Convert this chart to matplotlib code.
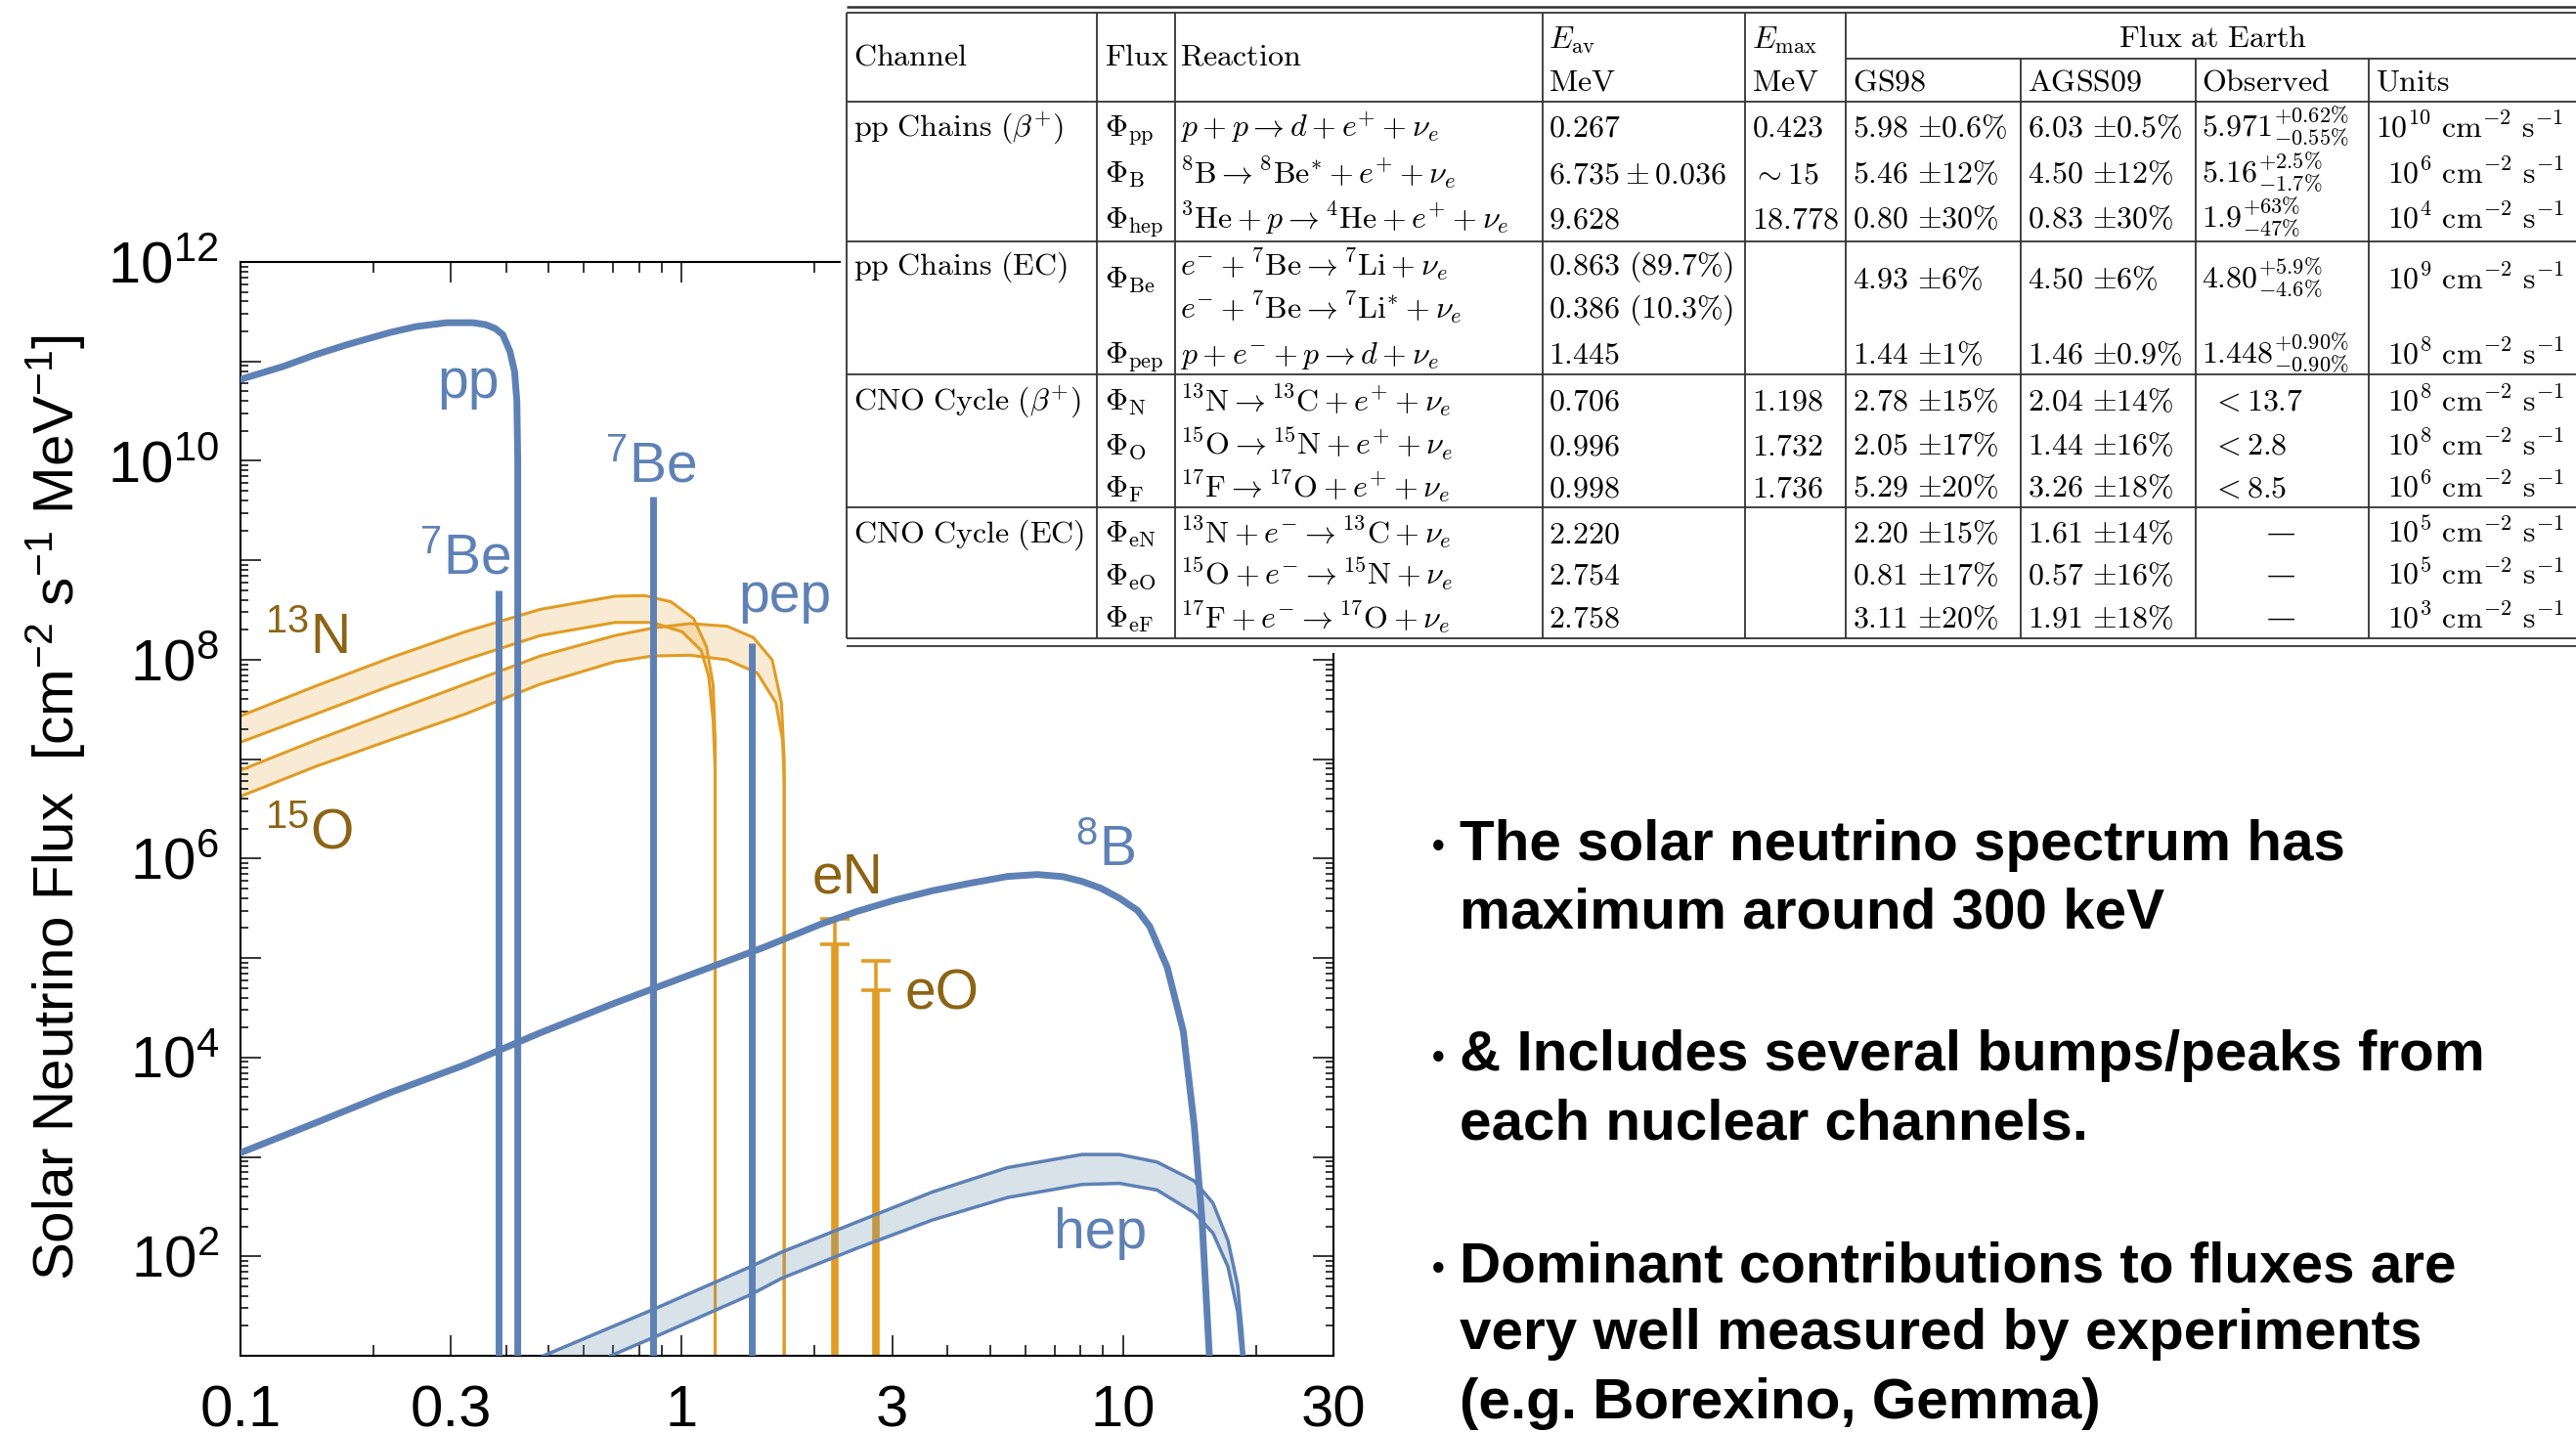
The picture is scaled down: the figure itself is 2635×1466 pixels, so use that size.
import numpy as np
import matplotlib
matplotlib.use('Agg')
import matplotlib.pyplot as plt
from matplotlib.ticker import FixedLocator, FuncFormatter, NullFormatter, LogLocator

plt.rcParams['font.family'] = ['Liberation Sans', 'DejaVu Sans']
plt.rcParams['mathtext.fontset'] = 'custom'
plt.rcParams['mathtext.rm'] = 'Liberation Sans'
plt.rcParams['mathtext.it'] = 'Liberation Sans:italic'
plt.rcParams['mathtext.bf'] = 'Liberation Sans:bold'
plt.rcParams['mathtext.sf'] = 'Liberation Sans'

BLUE = '#5E81B5'
ORANGE = '#E19C24'
BROWN = '#8C6414'
HEP_FILL = '#678FAB'

# spectra: E in MeV, flux in cm^-2 s^-1 MeV^-1
pp_E = [0.1, 0.125, 0.148, 0.175, 0.218, 0.25, 0.293, 0.336, 0.36, 0.378, 0.393, 0.408, 0.418,
        0.423, 0.425, 0.425]
pp_F = [6.6e10, 8.9e10, 1.17e11, 1.48e11, 1.95e11, 2.24e11, 2.45e11, 2.45e11, 2.34e11, 2.14e11,
        1.86e11, 1.26e11, 7.9e10, 4.0e10, 1.0e10, 1.0]

b8_E = [0.1, 0.148, 0.218, 0.323, 0.478, 0.706, 1.043, 1.542, 2.06, 2.50, 3.04, 3.70, 4.50, 5.47,
        6.40, 7.32, 8.07, 8.9, 9.82, 10.8, 11.5, 12.6, 13.7, 14.5, 15.1, 15.7, 15.8]
b8_F = [1.10e3, 2.20e3, 4.42e3, 8.45e3, 1.77e4, 3.53e4, 6.76e4, 1.29e5, 2.18e5, 2.95e5, 3.82e5,
        4.75e5, 5.65e5, 6.61e5, 6.92e5, 6.58e5, 5.90e5, 5.05e5, 4.00e5, 3.00e5, 2.08e5, 8.04e4,
        1.84e4, 2.11e3, 2.42e2, 10.0, 1.0]

hep_up_E = [0.486, 0.858, 1.43, 1.69, 2.50, 3.70, 5.47, 8.07, 9.82, 11.94, 14.5, 16.0, 17.3, 18.2, 18.6, 18.8]
hep_up_F = [10.0, 29.0, 78.5, 111, 222, 444, 780, 1057, 1057, 889, 575, 343, 144, 50.9, 18.2, 10.0]
hep_lo_E = [0.69, 0.858, 1.43, 1.69, 2.50, 3.70, 5.47, 8.07, 9.82, 11.94, 14.5, 16.0, 17.3, 18.2, 18.6]
hep_lo_F = [10.0, 15.1, 41.0, 60.5, 121, 232, 390, 528, 542, 465, 275, 171, 78.5, 27.7, 10.0]

n13_up_E = [0.1, 0.148, 0.218, 0.323, 0.478, 0.706, 0.824, 0.946, 1.064, 1.138, 1.178, 1.191, 1.191]
n13_up_F = [2.72e7, 5.43e7, 1.04e8, 1.91e8, 3.21e8, 4.35e8, 4.42e8, 3.82e8, 2.59e8, 1.35e8, 5.6e7, 1.5e7, 1.0]
n13_lo_E = [0.1, 0.148, 0.218, 0.323, 0.478, 0.706, 0.858, 1.002, 1.107, 1.151, 1.178, 1.19, 1.19]
n13_lo_F = [1.48e7, 2.84e7, 5.43e7, 9.98e7, 1.75e8, 2.37e8, 2.37e8, 1.91e8, 1.24e8, 6.8e7, 2.5e7, 8.0e6, 1.0]

o15_up_E = [0.1, 0.148, 0.218, 0.323, 0.478, 0.706, 0.858, 1.043, 1.268, 1.454, 1.603, 1.683, 1.707, 1.707]
o15_up_F = [7.74e6, 1.55e7, 2.96e7, 5.68e7, 1.09e8, 1.75e8, 2.08e8, 2.31e8, 2.17e8, 1.67e8, 9.98e7, 3.68e7, 1.0e7, 1.0]
o15_lo_E = [0.1, 0.148, 0.218, 0.323, 0.478, 0.706, 0.858, 1.043, 1.268, 1.483, 1.635, 1.693, 1.707, 1.707]
o15_lo_F = [4.22e6, 8.43e6, 1.55e7, 2.84e7, 5.68e7, 9.55e7, 1.09e8, 1.11e8, 9.98e7, 7.36e7, 3.68e7, 1.55e7, 6.0e6, 1.0]

# line spectra
line_E = [0.384, 0.862, 1.445]          # 7Be, 7Be, pep
line_top = [5.0e8, 4.4e9, 1.48e8]
ec_E = [2.22, 2.754]                    # eN, eO
ec_mid = [1.38e5, 4.8e4]
ec_up = [2.5e5, 9.4e4]

x_ticks = [0.1, 0.3, 1, 3, 10, 30]
x_ticklabels = ['0.1', '0.3', '1', '3', '10', '30']
x_minor = [0.2, 0.4, 0.5, 0.6, 0.7, 0.8, 0.9, 2, 4, 5, 6, 7, 8, 9, 20]

# table contents
tbl_channels = [r'$\mathrm{pp\ Chains}\ (\beta^{+})$', r'$\mathrm{pp\ Chains\ (EC)}$',
                r'$\mathrm{CNO\ Cycle}\ (\beta^{+})$', r'$\mathrm{CNO\ Cycle\ (EC)}$']
tbl_flux = ['pp', 'B', 'hep', 'Be', 'pep', 'N', 'O', 'F', 'eN', 'eO', 'eF']
tbl_reaction = [
    r'$p+p\rightarrow d+e^{+}+\nu_e$',
    r'${}^{8}\mathrm{B}\rightarrow{}^{8}\mathrm{Be}^{*}+e^{+}+\nu_e$',
    r'${}^{3}\mathrm{He}+p\rightarrow{}^{4}\mathrm{He}+e^{+}+\nu_e$',
    r'$e^{-}+{}^{7}\mathrm{Be}\rightarrow{}^{7}\mathrm{Li}+\nu_e$',
    r'$e^{-}+{}^{7}\mathrm{Be}\rightarrow{}^{7}\mathrm{Li}^{*}+\nu_e$',
    r'$p+e^{-}+p\rightarrow d+\nu_e$',
    r'${}^{13}\mathrm{N}\rightarrow{}^{13}\mathrm{C}+e^{+}+\nu_e$',
    r'${}^{15}\mathrm{O}\rightarrow{}^{15}\mathrm{N}+e^{+}+\nu_e$',
    r'${}^{17}\mathrm{F}\rightarrow{}^{17}\mathrm{O}+e^{+}+\nu_e$',
    r'${}^{13}\mathrm{N}+e^{-}\rightarrow{}^{13}\mathrm{C}+\nu_e$',
    r'${}^{15}\mathrm{O}+e^{-}\rightarrow{}^{15}\mathrm{N}+\nu_e$',
    r'${}^{17}\mathrm{F}+e^{-}\rightarrow{}^{17}\mathrm{O}+\nu_e$',
]
tbl_eav = ['0.267', r'6.735\pm0.036', '9.628', r'0.863\ (89.7\%)', r'0.386\ (10.3\%)', '1.445',
           '0.706', '0.996', '0.998', '2.220', '2.754', '2.758']
tbl_emax = ['0.423', r'\sim15', '18.778', '', '', '', '1.198', '1.732', '1.736', '', '', '']
tbl_gs98 = ['5.98', '0.6', '5.46', '12', '0.80', '30', '4.93', '6', '1.44', '1', '2.78', '15',
            '2.05', '17', '5.29', '20', '2.20', '15', '0.81', '17', '3.11', '20']
tbl_agss09 = ['6.03', '0.5', '4.50', '12', '0.83', '30', '4.50', '6', '1.46', '0.9', '2.04', '14',
              '1.44', '16', '3.26', '18', '1.61', '14', '0.57', '16', '1.91', '18']
tbl_observed = [r'5.971^{+0.62\%}_{-0.55\%}', r'5.16^{+2.5\%}_{-1.7\%}', r'1.9^{+63\%}_{-47\%}',
                r'4.80^{+5.9\%}_{-4.6\%}', r'1.448^{+0.90\%}_{-0.90\%}', '<13.7', '<2.8', '<8.5',
                '', '', '']
tbl_units_exp = [10, 6, 4, 9, 8, 8, 8, 6, 5, 5, 3]

bullets = [["The solar neutrino spectrum has", "maximum around 300 keV"],
           ["& Includes several bumps/peaks from", "each nuclear channels."],
           ["Dominant contributions to fluxes are", "very well measured by experiments",
            "(e.g. Borexino, Gemma)"]]

W, H = 2635, 1466
fig = plt.figure(figsize=(W / 100, H / 100), dpi=100)

# ---------------- spectrum plot ----------------
ax = fig.add_axes([246 / W, 1 - 1387 / H, 1118 / W, 1119 / H])
ax.set_xscale('log')
ax.set_yscale('log')

ax.fill(n13_up_E + n13_lo_E[::-1], n13_up_F + n13_lo_F[::-1], color=ORANGE, alpha=0.2, lw=0, zorder=1)
ax.fill(o15_up_E + o15_lo_E[::-1], o15_up_F + o15_lo_F[::-1], color=ORANGE, alpha=0.2, lw=0, zorder=1)
for e, f in [(n13_up_E, n13_up_F), (n13_lo_E, n13_lo_F), (o15_up_E, o15_up_F), (o15_lo_E, o15_lo_F)]:
    ax.plot(e, f, color=ORANGE, lw=2.2, zorder=2)

ax.vlines(ec_E, 1.0, ec_mid, color=ORANGE, lw=5.5, zorder=2)
ax.vlines(ec_E, ec_mid, ec_up, color=ORANGE, lw=2.6, zorder=2)
ax.plot(ec_E, ec_mid, ls='none', marker='_', ms=22, mew=2.6, color=ORANGE, zorder=2)
ax.plot(ec_E, ec_up, ls='none', marker='_', ms=22, mew=2.6, color=ORANGE, zorder=2)

ax.fill(hep_up_E + hep_lo_E[::-1], hep_up_F + hep_lo_F[::-1], color=HEP_FILL, alpha=0.25, lw=0, zorder=3)
ax.plot(hep_up_E, hep_up_F, color=BLUE, lw=2.5, zorder=3)
ax.plot(hep_lo_E, hep_lo_F, color=BLUE, lw=2.5, zorder=3)
ax.plot(pp_E, pp_F, color=BLUE, lw=5, zorder=3, solid_joinstyle='round')
ax.plot(b8_E, b8_F, color=BLUE, lw=5, zorder=3, solid_joinstyle='round')
ax.vlines(line_E, 1.0, line_top, color=BLUE, lw=5, zorder=3)

lab = dict(fontsize=41, ha='center', va='center', zorder=5)
ax.text(0.329, 10**10.78, 'pp', color=BLUE, **lab)
ax.text(0.849, 10**9.94, r'${}^{7}$Be', color=BLUE, **lab)
ax.text(0.322, 10**9.02, r'${}^{7}$Be', color=BLUE, **lab)
ax.text(1.714, 10**8.63, 'pep', color=BLUE, **lab)
ax.text(0.141, 10**8.21, r'${}^{13}$N', color=BROWN, **lab)
ax.text(0.1427, 10**6.25, r'${}^{15}$O', color=BROWN, **lab)
ax.text(9.12, 10**6.07, r'${}^{8}$B', color=BLUE, **lab)
ax.text(2.373, 10**5.80, 'eN', color=BROWN, **lab)
ax.text(3.90, 10**4.63, 'eO', color=BROWN, **lab)
ax.text(8.91, 10**2.23, 'hep', color=BLUE, **lab)

ax.set_xlim(0.1, 30)
ax.set_ylim(10, 1e12)
ax.set_xticks(x_ticks)
ax.set_xticklabels(x_ticklabels)
ax.xaxis.set_minor_locator(FixedLocator(x_minor))
ax.xaxis.set_minor_formatter(NullFormatter())
ax.yaxis.set_major_locator(FixedLocator([10.0 ** k for k in range(1, 13)]))


def ylab(v, pos):
    k = int(round(np.log10(v)))
    return f'$10^{{{k}}}$' if k % 2 == 0 else ''


ax.yaxis.set_major_formatter(FuncFormatter(ylab))
ax.yaxis.set_minor_locator(LogLocator(base=10, subs=np.arange(2, 10), numticks=100))
ax.yaxis.set_minor_formatter(NullFormatter())
ax.tick_params(which='both', direction='in', top=True, right=True, width=1.1, labelsize=43)
ax.tick_params(which='major', length=15)
ax.tick_params(axis='x', which='minor', length=8)
ax.tick_params(axis='y', which='minor', length=6)
ax.tick_params(axis='x', which='major', pad=21)
ax.tick_params(axis='y', which='major', pad=16)
for s in ax.spines.values():
    s.set_linewidth(1.5)

fig.text(57 / W, 1 - 826 / H, r'Solar Neutrino Flux  [cm$^{-2}$ s$^{-1}$ MeV$^{-1}$]',
         rotation=90, ha='center', va='center', fontsize=42)

# ---------------- table ----------------
tab = fig.add_axes([860 / W, 1 - 668 / H, (W - 860) / W, 668 / H])
tab.set_zorder(5)
tab.set_xlim(860, W)
tab.set_ylim(668, 0)
tab.set_xticks([])
tab.set_yticks([])
for s in tab.spines.values():
    s.set_visible(False)

LC = '#333333'
tab.hlines([6.7], 865.7, W, color=LC, lw=1.8)
tab.hlines([13.3, 104, 246.7, 383.3, 519.3, 653.3, 661], 865.7, W, color=LC, lw=1.3)
tab.hlines([60], 1888.4, W, color=LC, lw=1.3)
tab.vlines([865.7, 1122.3, 1201.6, 1577.6, 1784.5, 1888.4], 13.3, 653.3, color=LC, lw=1.3)
tab.vlines([2067, 2245.7, 2422.6], 60, 653.3, color=LC, lw=1.3)


def cell(x, y, s, ha='left'):
    tab.text(x, y, s, ha=ha, va='baseline', fontsize=23, math_fontfamily='cm', color='black')


cell(872.6, 66.7, r'$\mathrm{Channel}$')
cell(1129.8, 66.7, r'$\mathrm{Flux}$')
cell(1207, 66.7, r'$\mathrm{Reaction}$')
cell(1584, 50, r'$E_{\mathrm{av}}$')
cell(1584, 92.7, r'$\mathrm{MeV}$')
cell(1792.5, 50, r'$E_{\mathrm{max}}$')
cell(1792.5, 92.7, r'$\mathrm{MeV}$')
cell(2264, 48.3, r'$\mathrm{Flux\ at\ Earth}$', ha='center')
cell(1895, 92.7, r'$\mathrm{GS98}$')
cell(2074, 92.7, r'$\mathrm{AGSS09}$')
cell(2252.5, 92.7, r'$\mathrm{Observed}$')
cell(2429.5, 92.7, r'$\mathrm{Units}$')

for y, s in zip([140, 281, 420, 555], tbl_channels):
    cell(872.6, y, s)

reac_y = [140, 187, 233.5, 281, 325, 372, 420, 465, 508.5, 555, 598, 642]
for y, r, ea, em in zip(reac_y, tbl_reaction, tbl_eav, tbl_emax):
    cell(1207, y, r)
    cell(1584, y, '$' + ea + '$')
    if em:
        cell(1792.5, y, '$' + em + '$')

flux_y = [140, 187, 233.5, 295, 372, 420, 465, 508.5, 555, 598, 642]
for i, y in enumerate(flux_y):
    cell(1129.8, y, r'$\Phi_{\mathrm{' + tbl_flux[i] + '}}$')
    cell(1895, y, '$' + tbl_gs98[2 * i] + r'\ {\pm}' + tbl_gs98[2 * i + 1] + r'\%$')
    cell(2074, y, '$' + tbl_agss09[2 * i] + r'\ {\pm}' + tbl_agss09[2 * i + 1] + r'\%$')
    obs = tbl_observed[i]
    if obs.startswith('<'):
        cell(2262, y, '$' + obs + '$')
    elif obs:
        cell(2252.5, y, '$' + obs + '$')
    else:
        tab.text(2333.6, y, '\u2014', ha='center', va='baseline', fontsize=21,
                 family='DejaVu Serif', color='black')
    exp = str(tbl_units_exp[i])
    cell(2442 - 12.5 * (len(exp) - 1), y,
         r'$10^{' + exp + r'}\ \mathrm{cm}^{-2}\ \mathrm{s}^{-1}$')

# ---------------- bullet text ----------------
line_base = [[880, 950], [1095, 1166], [1311, 1380, 1451]]
for lines, bases in zip(bullets, line_base):
    fig.text(1471.6 / W, 1 - (bases[0] - 12) / H, '\u2022', ha='center', va='center',
             fontsize=26, fontweight='bold')
    for txt, b in zip(lines, bases):
        fig.text(1493 / W, 1 - b / H, txt, ha='left', va='baseline', fontsize=42, fontweight='bold')

fig.savefig('out.png', dpi=100)
